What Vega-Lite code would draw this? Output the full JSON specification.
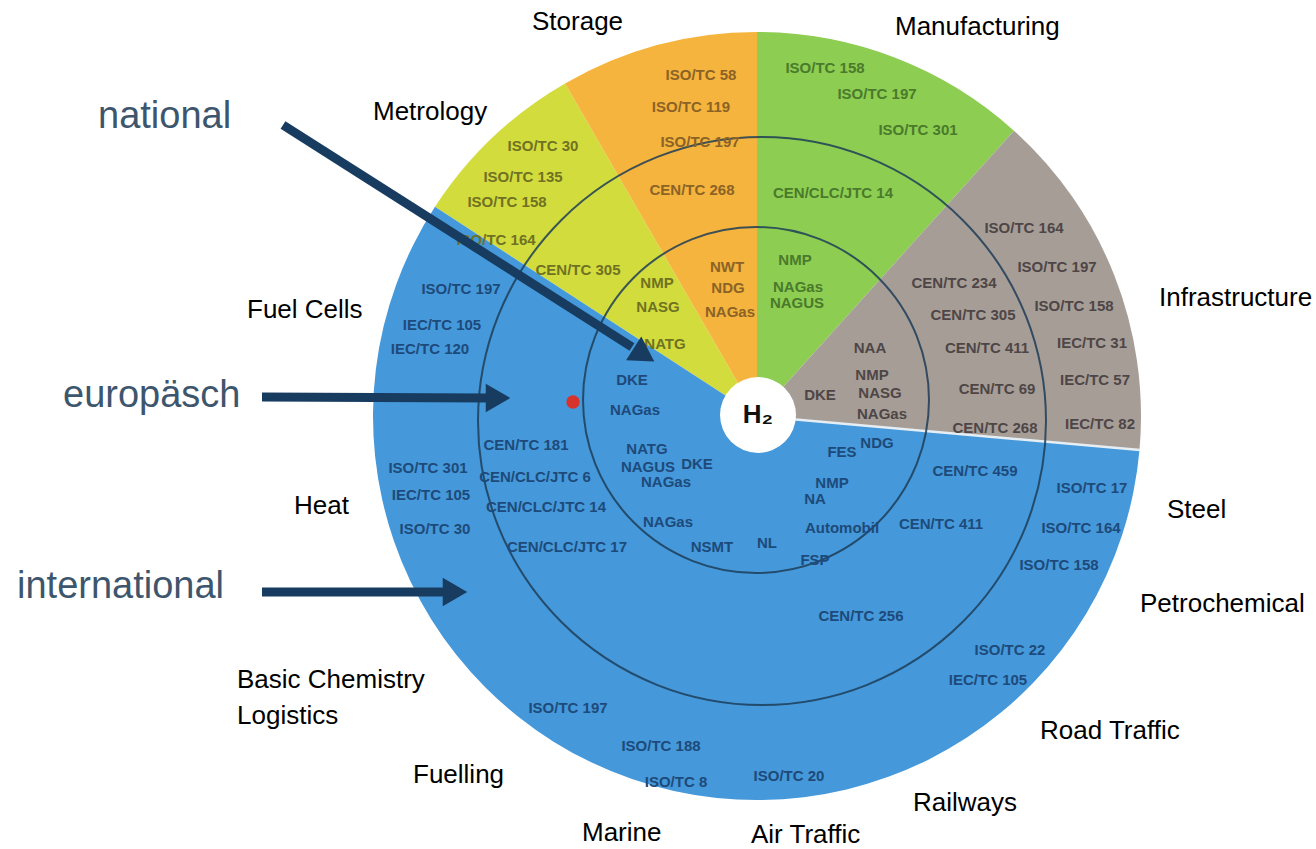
{
  "$schema": "https://vega.github.io/schema/vega-lite/v6.json",
  "autosize": "none",
  "width": 1316,
  "height": 849,
  "padding": 0,
  "background": "white",
  "config": {"view": {"stroke": null}},
  "datasets": {
    "sectors": [
      {"sector": "Metrology", "a0": 303, "a1": 330, "r": 384, "cx": 757, "cy": 416},
      {"sector": "Storage", "a0": 330, "a1": 360, "r": 384, "cx": 757, "cy": 416},
      {"sector": "Manufacturing", "a0": 0, "a1": 42, "r": 384, "cx": 757, "cy": 416},
      {"sector": "Infrastructure", "a0": 42, "a1": 95, "r": 384, "cx": 757, "cy": 416},
      {"sector": "Applications", "a0": 95, "a1": 303, "r": 384, "cx": 757, "cy": 416}
    ],
    "boundary": [{"x1": 757, "y1": 416, "x2": 1140, "y2": 450}],
    "rings": [
      {"level": "national", "cx": 756, "cy": 400, "r": 173},
      {"level": "europäisch", "cx": 762, "cy": 421, "r": 284}
    ],
    "hub": [{"label": "H₂", "cx": 758, "cy": 415, "r": 38}],
    "codes": [
      {"t": "ISO/TC 58", "x": 701, "y": 75, "s": "Storage"},
      {"t": "ISO/TC 119", "x": 691, "y": 107, "s": "Storage"},
      {"t": "ISO/TC 197", "x": 700, "y": 142, "s": "Storage"},
      {"t": "CEN/TC 268", "x": 692, "y": 190, "s": "Storage"},
      {"t": "NWT", "x": 727, "y": 267, "s": "Storage"},
      {"t": "NDG", "x": 728, "y": 288, "s": "Storage"},
      {"t": "NAGas", "x": 730, "y": 312, "s": "Storage"},
      {"t": "ISO/TC 30", "x": 543, "y": 146, "s": "Metrology"},
      {"t": "ISO/TC 135", "x": 523, "y": 177, "s": "Metrology"},
      {"t": "ISO/TC 158", "x": 507, "y": 202, "s": "Metrology"},
      {"t": "ISO/TC 164", "x": 496, "y": 240, "s": "Metrology"},
      {"t": "CEN/TC 305", "x": 578, "y": 270, "s": "Metrology"},
      {"t": "NMP", "x": 657, "y": 283, "s": "Metrology"},
      {"t": "NASG", "x": 658, "y": 307, "s": "Metrology"},
      {"t": "NATG", "x": 665, "y": 344, "s": "Metrology"},
      {"t": "ISO/TC 158", "x": 825, "y": 68, "s": "Manufacturing"},
      {"t": "ISO/TC 197", "x": 877, "y": 94, "s": "Manufacturing"},
      {"t": "ISO/TC 301", "x": 918, "y": 130, "s": "Manufacturing"},
      {"t": "CEN/CLC/JTC  14", "x": 833, "y": 193, "s": "Manufacturing"},
      {"t": "NMP", "x": 795, "y": 260, "s": "Manufacturing"},
      {"t": "NAGas", "x": 798, "y": 287, "s": "Manufacturing"},
      {"t": "NAGUS", "x": 797, "y": 303, "s": "Manufacturing"},
      {"t": "ISO/TC 164", "x": 1024, "y": 228, "s": "Infrastructure"},
      {"t": "ISO/TC 197", "x": 1057, "y": 267, "s": "Infrastructure"},
      {"t": "ISO/TC 158", "x": 1074, "y": 306, "s": "Infrastructure"},
      {"t": "IEC/TC 31", "x": 1092, "y": 343, "s": "Infrastructure"},
      {"t": "IEC/TC 57", "x": 1095, "y": 380, "s": "Infrastructure"},
      {"t": "IEC/TC 82", "x": 1100, "y": 424, "s": "Infrastructure"},
      {"t": "CEN/TC 234", "x": 954, "y": 283, "s": "Infrastructure"},
      {"t": "CEN/TC 305", "x": 973, "y": 315, "s": "Infrastructure"},
      {"t": "CEN/TC 411", "x": 987, "y": 348, "s": "Infrastructure"},
      {"t": "CEN/TC 69", "x": 997, "y": 389, "s": "Infrastructure"},
      {"t": "CEN/TC 268", "x": 995, "y": 428, "s": "Infrastructure"},
      {"t": "NAA", "x": 870, "y": 348, "s": "Infrastructure"},
      {"t": "NMP", "x": 872, "y": 375, "s": "Infrastructure"},
      {"t": "NASG", "x": 880, "y": 393, "s": "Infrastructure"},
      {"t": "NAGas", "x": 882, "y": 414, "s": "Infrastructure"},
      {"t": "DKE", "x": 820, "y": 395, "s": "Infrastructure"},
      {"t": "ISO/TC 197", "x": 461, "y": 289, "s": "Applications"},
      {"t": "IEC/TC 105", "x": 442, "y": 325, "s": "Applications"},
      {"t": "IEC/TC 120", "x": 430, "y": 349, "s": "Applications"},
      {"t": "DKE", "x": 632, "y": 380, "s": "Applications"},
      {"t": "NAGas", "x": 635, "y": 410, "s": "Applications"},
      {"t": "CEN/TC 181", "x": 526, "y": 445, "s": "Applications"},
      {"t": "ISO/TC 301", "x": 428, "y": 468, "s": "Applications"},
      {"t": "CEN/CLC/JTC 6", "x": 535, "y": 477, "s": "Applications"},
      {"t": "IEC/TC 105", "x": 431, "y": 495, "s": "Applications"},
      {"t": "CEN/CLC/JTC  14", "x": 546, "y": 507, "s": "Applications"},
      {"t": "ISO/TC 30", "x": 435, "y": 529, "s": "Applications"},
      {"t": "CEN/CLC/JTC  17", "x": 567, "y": 547, "s": "Applications"},
      {"t": "NATG", "x": 647, "y": 449, "s": "Applications"},
      {"t": "NAGUS", "x": 648, "y": 467, "s": "Applications"},
      {"t": "DKE", "x": 697, "y": 464, "s": "Applications"},
      {"t": "NAGas", "x": 666, "y": 482, "s": "Applications"},
      {"t": "NAGas", "x": 668, "y": 522, "s": "Applications"},
      {"t": "NSMT", "x": 712, "y": 547, "s": "Applications"},
      {"t": "FES", "x": 842, "y": 452, "s": "Applications"},
      {"t": "NDG", "x": 877, "y": 443, "s": "Applications"},
      {"t": "NMP", "x": 832, "y": 483, "s": "Applications"},
      {"t": "NA", "x": 815, "y": 499, "s": "Applications"},
      {"t": "Automobil", "x": 842, "y": 528, "s": "Applications"},
      {"t": "NL", "x": 767, "y": 543, "s": "Applications"},
      {"t": "FSP", "x": 815, "y": 560, "s": "Applications"},
      {"t": "CEN/TC 459", "x": 975, "y": 471, "s": "Applications"},
      {"t": "CEN/TC 411", "x": 941, "y": 524, "s": "Applications"},
      {"t": "CEN/TC 256", "x": 861, "y": 616, "s": "Applications"},
      {"t": "ISO/TC 17", "x": 1092, "y": 488, "s": "Applications"},
      {"t": "ISO/TC 164", "x": 1081, "y": 528, "s": "Applications"},
      {"t": "ISO/TC 158", "x": 1059, "y": 565, "s": "Applications"},
      {"t": "ISO/TC 22", "x": 1010, "y": 650, "s": "Applications"},
      {"t": "IEC/TC 105", "x": 988, "y": 680, "s": "Applications"},
      {"t": "ISO/TC 197", "x": 568, "y": 708, "s": "Applications"},
      {"t": "ISO/TC 188", "x": 661, "y": 746, "s": "Applications"},
      {"t": "ISO/TC 8", "x": 676, "y": 782, "s": "Applications"},
      {"t": "ISO/TC 20", "x": 789, "y": 776, "s": "Applications"}
    ],
    "fields": [
      {"t": "Storage", "x": 532, "y": 22},
      {"t": "Manufacturing", "x": 895, "y": 27},
      {"t": "Metrology", "x": 373, "y": 112},
      {"t": "Infrastructure", "x": 1159, "y": 298},
      {"t": "Fuel Cells", "x": 247, "y": 310},
      {"t": "Heat", "x": 294, "y": 506},
      {"t": "Steel", "x": 1167, "y": 510},
      {"t": "Petrochemical", "x": 1140, "y": 604},
      {"t": "Basic Chemistry", "x": 237, "y": 680},
      {"t": "Logistics", "x": 237, "y": 716},
      {"t": "Fuelling", "x": 413, "y": 775},
      {"t": "Road Traffic", "x": 1040, "y": 731},
      {"t": "Railways", "x": 913, "y": 803},
      {"t": "Marine", "x": 582, "y": 833},
      {"t": "Air Traffic", "x": 751, "y": 835}
    ],
    "levels": [
      {"t": "national", "x": 98, "y": 117},
      {"t": "europäsch", "x": 63, "y": 396},
      {"t": "international", "x": 17, "y": 587}
    ],
    "arrows": [
      {"level": "national", "x1": 283, "y1": 125, "x2": 632, "y2": 347, "hx": 644, "hy": 355, "angle": 32.5},
      {"level": "europäsch", "x1": 262, "y1": 397, "x2": 490, "y2": 398, "hx": 498, "hy": 398, "angle": 0},
      {"level": "international", "x1": 262, "y1": 592, "x2": 448, "y2": 592, "hx": 455, "hy": 592, "angle": 0}
    ],
    "dot": [{"x": 573, "y": 402}]
  },
  "layer": [
    {
      "data": {"name": "sectors"},
      "mark": {"type": "arc"},
      "encoding": {
        "x": {"field": "cx", "type": "quantitative", "scale": {"domain": [0, 1316], "nice": false, "zero": false}, "axis": null},
        "y": {"field": "cy", "type": "quantitative", "scale": {"domain": [0, 849], "nice": false, "zero": false, "reverse": true}, "axis": null},
        "theta": {"field": "a0", "type": "quantitative", "stack": null, "scale": {"domain": [0, 360], "range": [0, 6.283185307179586], "zero": false, "nice": false}},
        "theta2": {"field": "a1"},
        "radius": {"field": "r", "type": "quantitative", "stack": null, "scale": {"type": "linear", "domain": [0, 400], "range": [0, 400], "zero": true, "nice": false}},
        "fill": {"field": "sector", "type": "nominal", "legend": null,
          "scale": {"domain": ["Metrology", "Storage", "Manufacturing", "Infrastructure", "Applications"],
                    "range": ["#d3dc3d", "#f5b43d", "#8dcd52", "#a69d97", "#4598d9"]}}
      }
    },
    {
      "data": {"name": "boundary"},
      "mark": {"type": "rule", "color": "#e6eef5", "strokeWidth": 2.5},
      "encoding": {
        "x": {"field": "x1", "type": "quantitative"},
        "y": {"field": "y1", "type": "quantitative"},
        "x2": {"field": "x2"},
        "y2": {"field": "y2"}
      }
    },
    {
      "data": {"name": "rings"},
      "mark": {"type": "arc", "fill": "transparent", "stroke": "#1d3d58", "strokeWidth": 2, "strokeOpacity": 0.85},
      "encoding": {
        "x": {"field": "cx", "type": "quantitative"},
        "y": {"field": "cy", "type": "quantitative"},
        "theta": {"datum": 0, "type": "quantitative", "stack": null},
        "theta2": {"datum": 360},
        "radius": {"field": "r", "type": "quantitative", "stack": null}
      }
    },
    {
      "data": {"name": "hub"},
      "mark": {"type": "arc", "fill": "white"},
      "encoding": {
        "x": {"field": "cx", "type": "quantitative"},
        "y": {"field": "cy", "type": "quantitative"},
        "theta": {"datum": 0, "type": "quantitative", "stack": null},
        "theta2": {"datum": 360},
        "radius": {"field": "r", "type": "quantitative", "stack": null}
      }
    },
    {
      "data": {"name": "hub"},
      "mark": {"type": "text", "font": "Liberation Sans", "fontWeight": "bold", "fontSize": 26, "color": "#111111", "align": "center", "baseline": "middle"},
      "encoding": {
        "x": {"field": "cx", "type": "quantitative"},
        "y": {"field": "cy", "type": "quantitative"},
        "text": {"field": "label"}
      }
    },
    {
      "data": {"name": "codes"},
      "mark": {"type": "text", "font": "Liberation Sans", "fontWeight": "bold", "fontSize": 15, "align": "center", "baseline": "middle"},
      "encoding": {
        "x": {"field": "x", "type": "quantitative"},
        "y": {"field": "y", "type": "quantitative"},
        "text": {"field": "t"},
        "color": {"field": "s", "type": "nominal", "legend": null,
          "scale": {"domain": ["Metrology", "Storage", "Manufacturing", "Infrastructure", "Applications"],
                    "range": ["#6f7222", "#8b6326", "#4a7a2b", "#4e4646", "#1d4a7a"]}}
      }
    },
    {
      "data": {"name": "fields"},
      "mark": {"type": "text", "font": "Liberation Sans", "fontSize": 26, "color": "#000000", "align": "left", "baseline": "middle"},
      "encoding": {
        "x": {"field": "x", "type": "quantitative"},
        "y": {"field": "y", "type": "quantitative"},
        "text": {"field": "t"}
      }
    },
    {
      "data": {"name": "levels"},
      "mark": {"type": "text", "font": "Liberation Sans", "fontSize": 38, "color": "#3e566d", "align": "left", "baseline": "middle"},
      "encoding": {
        "x": {"field": "x", "type": "quantitative"},
        "y": {"field": "y", "type": "quantitative"},
        "text": {"field": "t"}
      }
    },
    {
      "data": {"name": "arrows"},
      "mark": {"type": "rule", "color": "#183c60", "strokeWidth": 9},
      "encoding": {
        "x": {"field": "x1", "type": "quantitative"},
        "y": {"field": "y1", "type": "quantitative"},
        "x2": {"field": "x2"},
        "y2": {"field": "y2"}
      }
    },
    {
      "data": {"name": "arrows"},
      "mark": {"type": "point", "shape": "triangle-right", "filled": true, "color": "#183c60", "opacity": 1, "size": 800},
      "encoding": {
        "x": {"field": "hx", "type": "quantitative"},
        "y": {"field": "hy", "type": "quantitative"},
        "angle": {"field": "angle", "type": "quantitative", "scale": {"domain": [0, 360], "range": [0, 360]}}
      }
    },
    {
      "data": {"name": "dot"},
      "mark": {"type": "point", "shape": "circle", "filled": true, "color": "#d8322c", "opacity": 1, "size": 180},
      "encoding": {
        "x": {"field": "x", "type": "quantitative"},
        "y": {"field": "y", "type": "quantitative"}
      }
    }
  ]
}
